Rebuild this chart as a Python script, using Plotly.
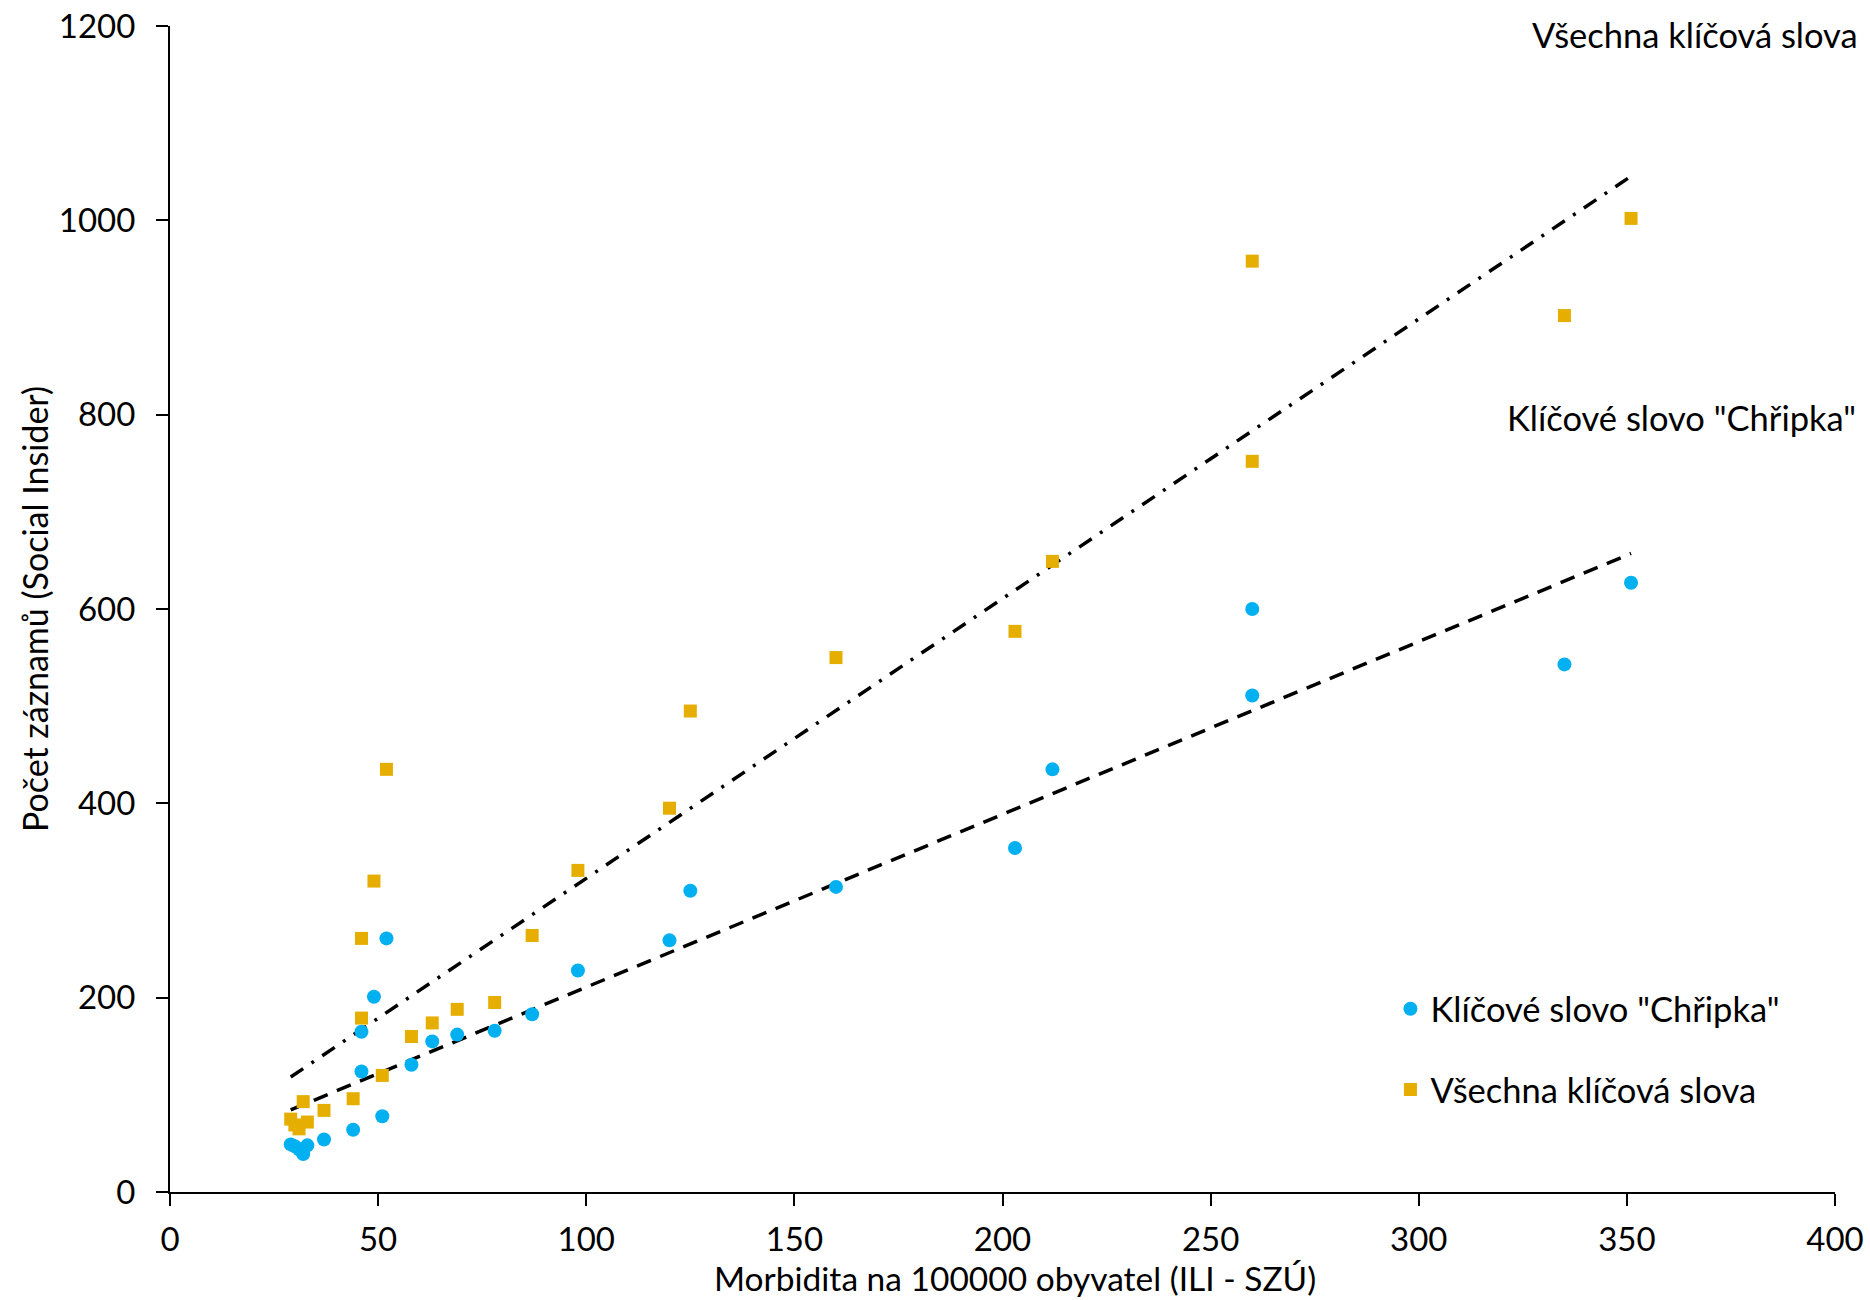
import numpy as np
import plotly.graph_objects as go

# Morbidity (ILI per 100000) and record counts
x_chripka = [29, 30, 31, 32, 33, 37, 44, 46, 46, 49, 51, 52, 58, 63, 69, 78, 87, 98,
             120, 125, 160, 203, 212, 260, 260, 335, 351]
y_chripka = [49, 47, 44, 39, 48, 54, 64, 165, 124, 201, 78, 261, 131, 155, 162, 166, 183, 228,
             259, 310, 314, 354, 435, 600, 511, 543, 627]

x_vsechna = [29, 30, 31, 32, 33, 37, 44, 46, 46, 49, 51, 52, 58, 63, 69, 78, 87, 98,
             120, 125, 160, 203, 212, 260, 260, 335, 351]
y_vsechna = [75, 69, 65, 93, 72, 84, 96, 261, 179, 320, 120, 435, 160, 174, 188, 195, 264, 331,
             395, 495, 550, 577, 649, 958, 752, 902, 1002]

name_chripka = 'Klíčové slovo "Chřipka"'
name_vsechna = "Všechna klíčová slova"
x_title = "Morbidita na 100000 obyvatel (ILI - SZÚ)"
y_title = "Počet záznamů (Social Insider)"

FONT = "Lato"
BLUE = "#00B0F0"
GOLD = "#E6AE00"


def trend(xs, ys):
    k, q = np.polyfit(xs, ys, 1)
    xr = np.array([min(xs), max(xs)], dtype=float)
    return xr, k * xr + q


fig = go.Figure()

tx, ty = trend(x_chripka, y_chripka)
fig.add_trace(go.Scatter(x=tx, y=ty, mode="lines", showlegend=False, hoverinfo="skip",
                         line=dict(color="black", width=3.5, dash="15px,10px")))
tx2, ty2 = trend(x_vsechna, y_vsechna)
fig.add_trace(go.Scatter(x=tx2, y=ty2, mode="lines", showlegend=False, hoverinfo="skip",
                         line=dict(color="black", width=3.5, dash="15px,10px,3px,10px")))

fig.add_trace(go.Scatter(x=x_chripka, y=y_chripka, mode="markers", name=name_chripka,
                         legendgroup="a",
                         marker=dict(symbol="circle", size=14, color=BLUE)))
fig.add_trace(go.Scatter(x=x_vsechna, y=y_vsechna, mode="markers", name=name_vsechna,
                         legendgroup="b",
                         marker=dict(symbol="square", size=13, color=GOLD)))

axis_common = dict(showgrid=False, zeroline=False, showline=True, linecolor="black",
                   linewidth=2, ticks="outside", ticklen=12, tickwidth=2, tickcolor="black",
                   automargin=False,
                   tickfont=dict(family=FONT, size=33, color="black"))

fig.update_xaxes(range=[0, 400], dtick=50, tick0=0, **axis_common, ticklabelstandoff=5)
fig.update_yaxes(range=[0, 1200], dtick=200, tick0=0, **axis_common, ticklabelstandoff=14,
                 title=dict(text=y_title, font=dict(family=FONT, size=34, color="black"),
                            standoff=0))

fig.update_layout(
    width=1870, height=1300,
    margin=dict(l=170, r=35, t=26, b=108),
    paper_bgcolor="white", plot_bgcolor="white",
    font=dict(family=FONT, color="black"),
    legend=dict(x=0.733, y=0.182, xanchor="left", yanchor="top",
                font=dict(family=FONT, size=34.5, color="black"),
                traceorder="grouped", tracegroupgap=33, bgcolor="rgba(0,0,0,0)"),
    annotations=[
        dict(text=x_title, xref="paper", yref="paper", x=0.5075, y=-0.0735,
             xanchor="center", yanchor="middle", showarrow=False, borderpad=0,
             font=dict(family=FONT, size=33.5, color="black")),
        dict(text=name_vsechna, xref="paper", yref="paper", x=1.015, y=0.993,
             xanchor="right", yanchor="middle", showarrow=False,
             font=dict(family=FONT, size=34.5, color="black")),
        dict(text=name_chripka, xref="paper", yref="paper", x=1.0137, y=0.6646,
             xanchor="right", yanchor="middle", showarrow=False,
             font=dict(family=FONT, size=34.5, color="black")),
    ],
)

fig.write_html("out.html", config={"displayModeBar": False},
               post_script="document.body.style.margin='0';document.body.style.overflow='hidden';")
